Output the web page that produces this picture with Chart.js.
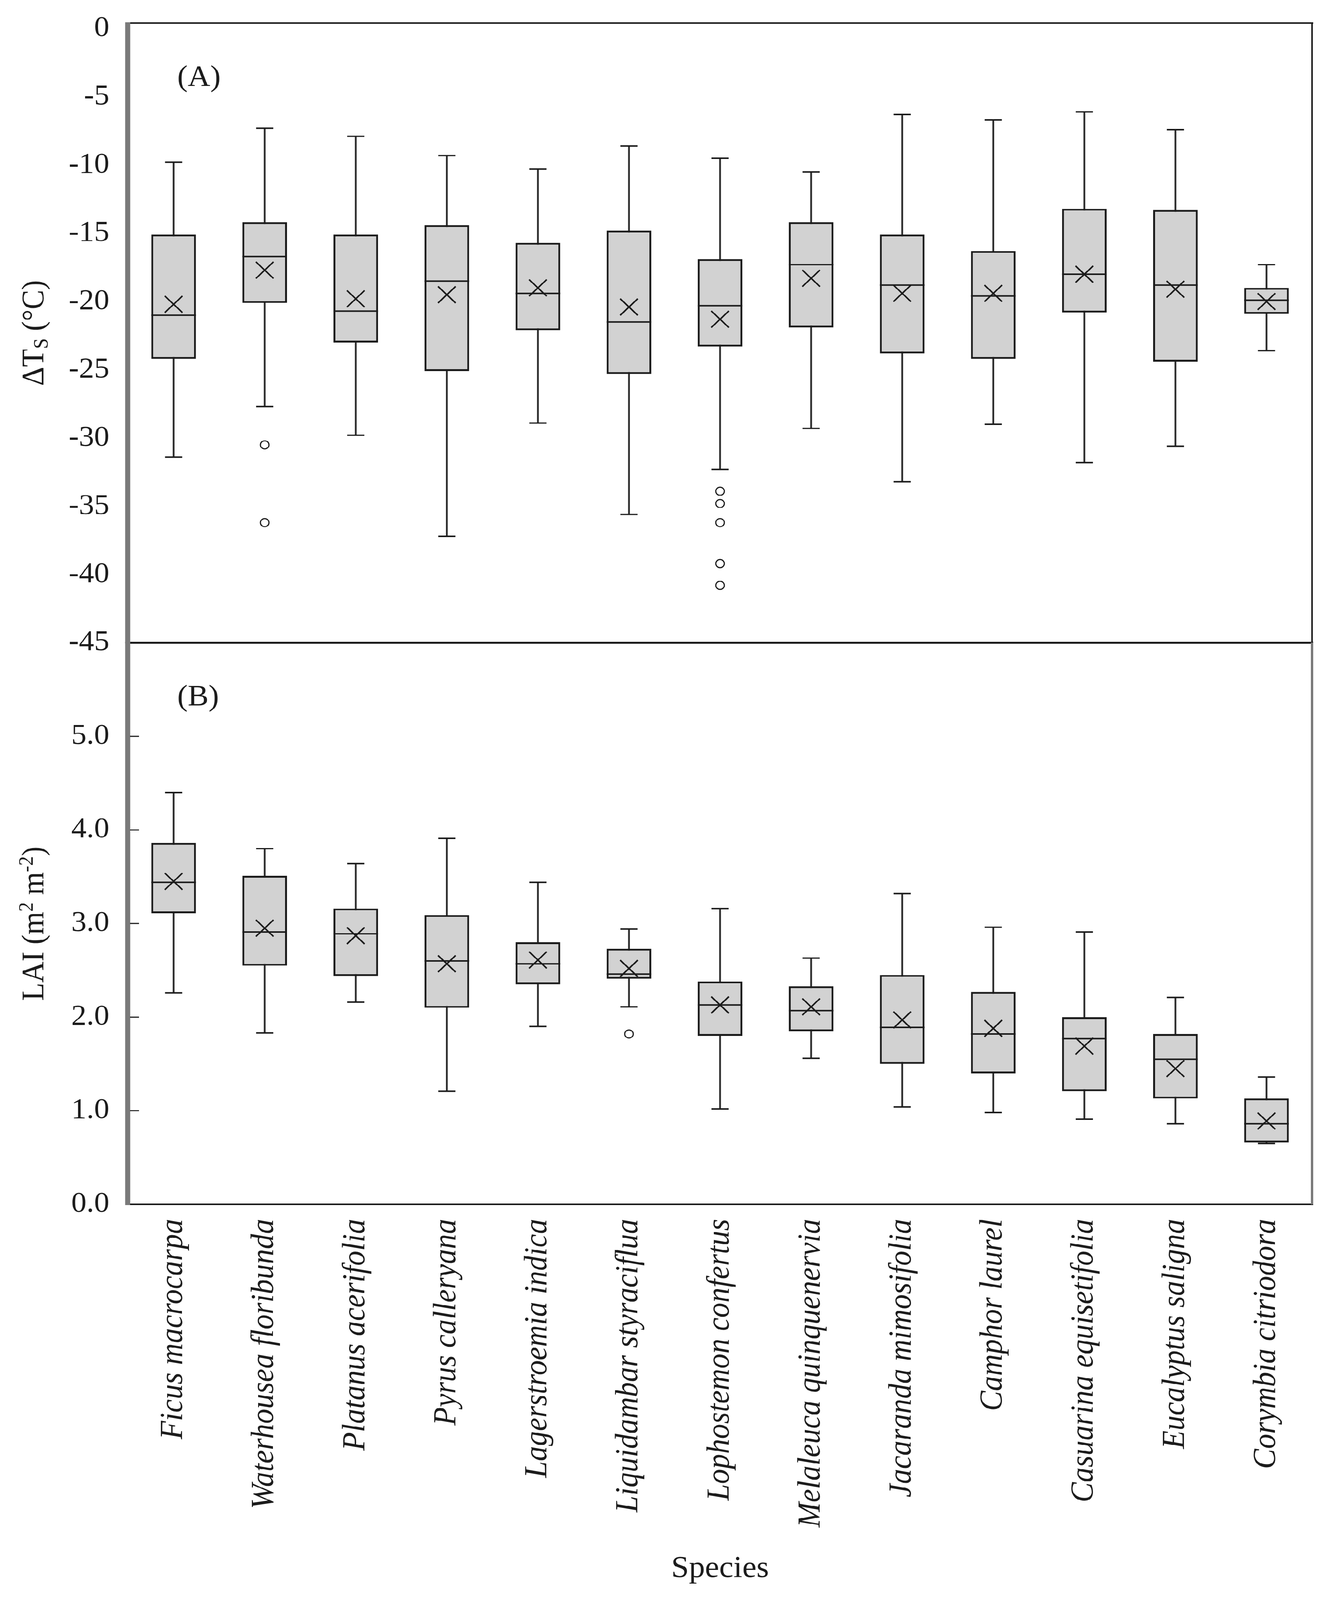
<!DOCTYPE html>
<html lang="en">
<head>
<meta charset="UTF-8">
<title>Surface temperature difference and LAI by species</title>
<style>
  html, body { margin: 0; background: #fff; overflow: hidden; }
  #wrap { position: relative; width: 3406px; height: 4359px; background: #fff; transform-origin: 0 0; }
  canvas { position: absolute; left: 0; }
  #chartA { top: 0; }
  #chartB { top: 1740px; }
</style>
</head>
<body>
<div id="wrap">
  <canvas id="chartA" width="3406" height="1800" style="width:3406px;height:1800px"></canvas>
  <canvas id="chartB" width="3406" height="2619" style="width:3406px;height:2619px"></canvas>
</div>

<script src="https://cdn.jsdelivr.net/npm/chart.js"></script>
<script>
// categories
const species = ['Ficus macrocarpa', 'Waterhousea floribunda', 'Platanus acerifolia', 'Pyrus calleryana',
  'Lagerstroemia indica', 'Liquidambar styraciflua', 'Lophostemon confertus', 'Melaleuca quinquenervia',
  'Jacaranda mimosifolia', 'Camphor laurel', 'Casuarina equisetifolia', 'Eucalyptus saligna', 'Corymbia citriodora'];

// (A) delta Ts, degC
const dtsMax  = [-9.8, -7.3, -7.9, -9.3, -10.3, -8.6, -9.5, -10.5, -6.3, -6.7, -6.1, -7.4, -17.3];
const dtsQ3   = [-15.1, -14.2, -15.1, -14.4, -15.7, -14.8, -16.9, -14.2, -15.1, -16.3, -13.2, -13.3, -19.0];
const dtsMed  = [-21.0, -16.7, -20.7, -18.5, -19.4, -21.5, -20.3, -17.3, -18.8, -19.6, -18.0, -18.8, -19.9];
const dtsMean = [-20.2, -17.7, -19.8, -19.5, -19.0, -20.4, -21.3, -18.3, -19.4, -19.4, -18.0, -19.1, -20.0];
const dtsQ1   = [-24.2, -20.1, -23.0, -25.1, -22.1, -25.3, -23.3, -21.9, -23.8, -24.2, -20.8, -24.4, -20.9];
const dtsMin  = [-31.4, -27.7, -29.8, -37.2, -28.9, -35.6, -32.3, -29.3, -33.2, -29.0, -31.8, -30.6, -23.6];
const dtsOutliers = [[], [-30.5, -36.2], [], [], [], [], [-33.9, -34.8, -36.2, -39.2, -40.8], [], [], [], [], [], []];
const dtsTicks = [0, -5, -10, -15, -20, -25, -30, -35, -40, -45];
const dtsTickLabels = ['0', '-5', '-10', '-15', '-20', '-25', '-30', '-35', '-40', '-45'];

// (B) LAI, m2 m-2
const laiMax  = [4.40, 3.80, 3.64, 3.91, 3.44, 2.94, 3.16, 2.63, 3.32, 2.96, 2.91, 2.21, 1.36];
const laiQ3   = [3.86, 3.51, 3.16, 3.09, 2.80, 2.73, 2.38, 2.33, 2.45, 2.27, 2.00, 1.82, 1.13];
const laiMed  = [3.44, 2.91, 2.89, 2.60, 2.57, 2.46, 2.13, 2.07, 1.89, 1.82, 1.77, 1.55, 0.86];
const laiMean = [3.45, 2.95, 2.87, 2.57, 2.61, 2.52, 2.13, 2.11, 1.97, 1.88, 1.69, 1.45, 0.89];
const laiQ1   = [3.11, 2.55, 2.44, 2.10, 2.35, 2.41, 1.80, 1.85, 1.50, 1.40, 1.21, 1.13, 0.66];
const laiMin  = [2.26, 1.83, 2.16, 1.21, 1.90, 2.11, 1.02, 1.56, 1.04, 0.98, 0.91, 0.86, 0.65];
const laiOutliers = [[], [], [], [], [], [1.82], [], [], [], [], [], [], []];
const laiTicks = [0, 1, 2, 3, 4, 5];
const laiTickLabels = ['0.0', '1.0', '2.0', '3.0', '4.0', '5.0'];

const SERIF = "'Liberation Serif', 'Times New Roman', serif";
const INK = '#1c1c1c';
const GREY_AXIS = '#7a7a7a';
const BOX_FRAC = 0.49;

Chart.defaults.font.family = SERIF;
Chart.defaults.color = INK;

// the figure is laid out at 3406x4359; squeeze it vertically if the window is shorter
const fitY = Math.min(1, (window.innerHeight || 4359) / 4359);
document.getElementById('wrap').style.transform = 'scale(1,' + fitY + ')';

// build the box-plot pieces as ordinary Chart.js datasets
function boxDatasets(mins, q1, med, q3, maxs, means, outliers) {
  const halfBox = c => {
    const a = c.chart.chartArea;
    return a ? (a.right - a.left) / species.length * BOX_FRAC / 2 : 0;
  };
  const outPts = [];
  outliers.forEach((list, i) => list.forEach(v => outPts.push({ x: species[i], y: v })));
  const marks = (data, style, radius, width, order) => ({
    type: 'line', data, showLine: false, pointStyle: style, pointRadius: radius,
    pointBorderWidth: width, pointBorderColor: INK, pointBackgroundColor: INK, order
  });
  return [
    // whisker stem
    { type: 'bar', data: species.map((s, i) => [mins[i], maxs[i]]), grouped: false,
      barThickness: 4, backgroundColor: '#2e2e2e', borderWidth: 0, order: 6 },
    // box
    { type: 'bar', data: species.map((s, i) => [q1[i], q3[i]]), grouped: false,
      barPercentage: BOX_FRAC, categoryPercentage: 1, backgroundColor: '#d2d2d2',
      borderColor: INK, borderWidth: 5, borderSkipped: false, order: 5 },
    marks(med, 'line', halfBox, 4, 4),
    marks(maxs, 'line', 22, 4, 3),
    marks(mins, 'line', 22, 4, 3),
    marks(means, 'crossRot', 32, 4, 1),
    { type: 'line', data: outPts, showLine: false, pointStyle: 'circle', pointRadius: 11,
      pointBorderWidth: 3, pointBorderColor: INK, pointBackgroundColor: '#fff', order: 0 }
  ];
}

// frame, inner ticks, panel tag and y title
const framePlugin = {
  id: 'frame',
  afterDraw(chart, args, o) {
    const { ctx, chartArea: a } = chart;
    ctx.save();
    const line = (x1, y1, x2, y2, w, c) => {
      ctx.beginPath(); ctx.lineWidth = w; ctx.strokeStyle = c;
      ctx.moveTo(x1, y1); ctx.lineTo(x2, y2); ctx.stroke();
    };
    line(a.left, a.top, a.right + 3, a.top, o.top[0], o.top[1]);
    line(a.left, a.bottom, a.right + 3, a.bottom, o.bottom[0], o.bottom[1]);
    line(a.right, a.top, a.right, a.bottom, o.right[0], o.right[1]);
    line(a.left - 1, a.top - 2, a.left - 1, a.bottom + 2, 13, GREY_AXIS);

    if (o.innerTicks) {
      const y = chart.scales.y;
      y.ticks.forEach(t => {
        const py = y.getPixelForValue(t.value);
        line(a.left + 5, py, a.left + o.innerTicks, py, 3, INK);
      });
    }

    ctx.fillStyle = INK;
    ctx.font = '80px ' + SERIF;
    ctx.textBaseline = 'middle';
    ctx.textAlign = 'left';
    ctx.fillText(o.tag, a.left + 126, a.top + 150);

    // rotated y title with sub/superscripts
    ctx.translate(90, (a.top + a.bottom) / 2);
    ctx.rotate(-Math.PI / 2);
    const big = '80px ' + SERIF, small = '52px ' + SERIF;
    let total = 0;
    o.title.forEach(p => { ctx.font = p.s ? small : big; total += ctx.measureText(p.t).width; });
    let x = -total / 2;
    ctx.textAlign = 'left';
    o.title.forEach(p => {
      ctx.font = p.s ? small : big;
      const dy = p.s === 'sub' ? 18 : p.s === 'sup' ? -20 : 0;
      ctx.fillText(p.t, x, dy);
      x += ctx.measureText(p.t).width;
    });
    ctx.restore();
  }
};

function yScale(min, max, ticks, labels) {
  return {
    min, max,
    afterBuildTicks: s => { s.ticks = ticks.map(v => ({ value: v })); },
    afterFit: s => { s.width = 328; s.paddingTop = 0; s.paddingBottom = 0; },
    ticks: { callback: (v, i) => labels[i], padding: 48, color: INK, font: { size: 78 } },
    grid: { display: false, drawTicks: false },
    border: { display: false }
  };
}

const common = {
  responsive: false,
  animation: false,
  devicePixelRatio: 1,
  events: []
};

new Chart(document.getElementById('chartA'), {
  data: {
    labels: species,
    datasets: boxDatasets(dtsMin, dtsQ1, dtsMed, dtsQ3, dtsMax, dtsMean, dtsOutliers)
  },
  options: Object.assign({}, common, {
    layout: { autoPadding: false, padding: { top: 63, bottom: 49, left: 0, right: 46 } },
    scales: {
      x: { display: false, offset: true },
      y: yScale(-45, 0.4, dtsTicks, dtsTickLabels)
    },
    plugins: {
      legend: { display: false },
      tooltip: { enabled: false },
      frame: {
        top: [4, INK], bottom: [6, INK], right: [4, INK], innerTicks: 0, tag: '(A)',
        title: [{ t: 'ΔT' }, { t: 'S', s: 'sub' }, { t: ' (°C)' }]
      }
    }
  }),
  plugins: [framePlugin]
});

new Chart(document.getElementById('chartB'), {
  data: {
    labels: species,
    datasets: boxDatasets(laiMin, laiQ1, laiMed, laiQ3, laiMax, laiMean, laiOutliers)
  },
  options: Object.assign({}, common, {
    layout: { autoPadding: false, padding: { top: 11, bottom: 0, left: 0, right: 46 } },
    scales: {
      x: {
        offset: true,
        afterFit: s => { s.height = 1078; s.paddingLeft = 0; s.paddingRight = 0; },
        ticks: {
          autoSkip: false, minRotation: 90, maxRotation: 90, padding: 40, color: INK,
          font: { size: 82, style: 'italic' }
        },
        grid: { display: false, drawTicks: false },
        border: { display: false },
        title: { display: true, text: 'Species', color: INK, font: { size: 82 }, padding: { top: 0, bottom: 35 } }
      },
      y: yScale(0, 6, laiTicks, laiTickLabels)
    },
    plugins: {
      legend: { display: false },
      tooltip: { enabled: false },
      frame: {
        top: [6, INK], bottom: [4, INK], right: [6, GREY_AXIS], innerTicks: 28, tag: '(B)',
        title: [{ t: 'LAI (m' }, { t: '2', s: 'sup' }, { t: ' m' }, { t: '-2', s: 'sup' }, { t: ')' }]
      }
    }
  }),
  plugins: [framePlugin]
});
</script>
</body>
</html>
